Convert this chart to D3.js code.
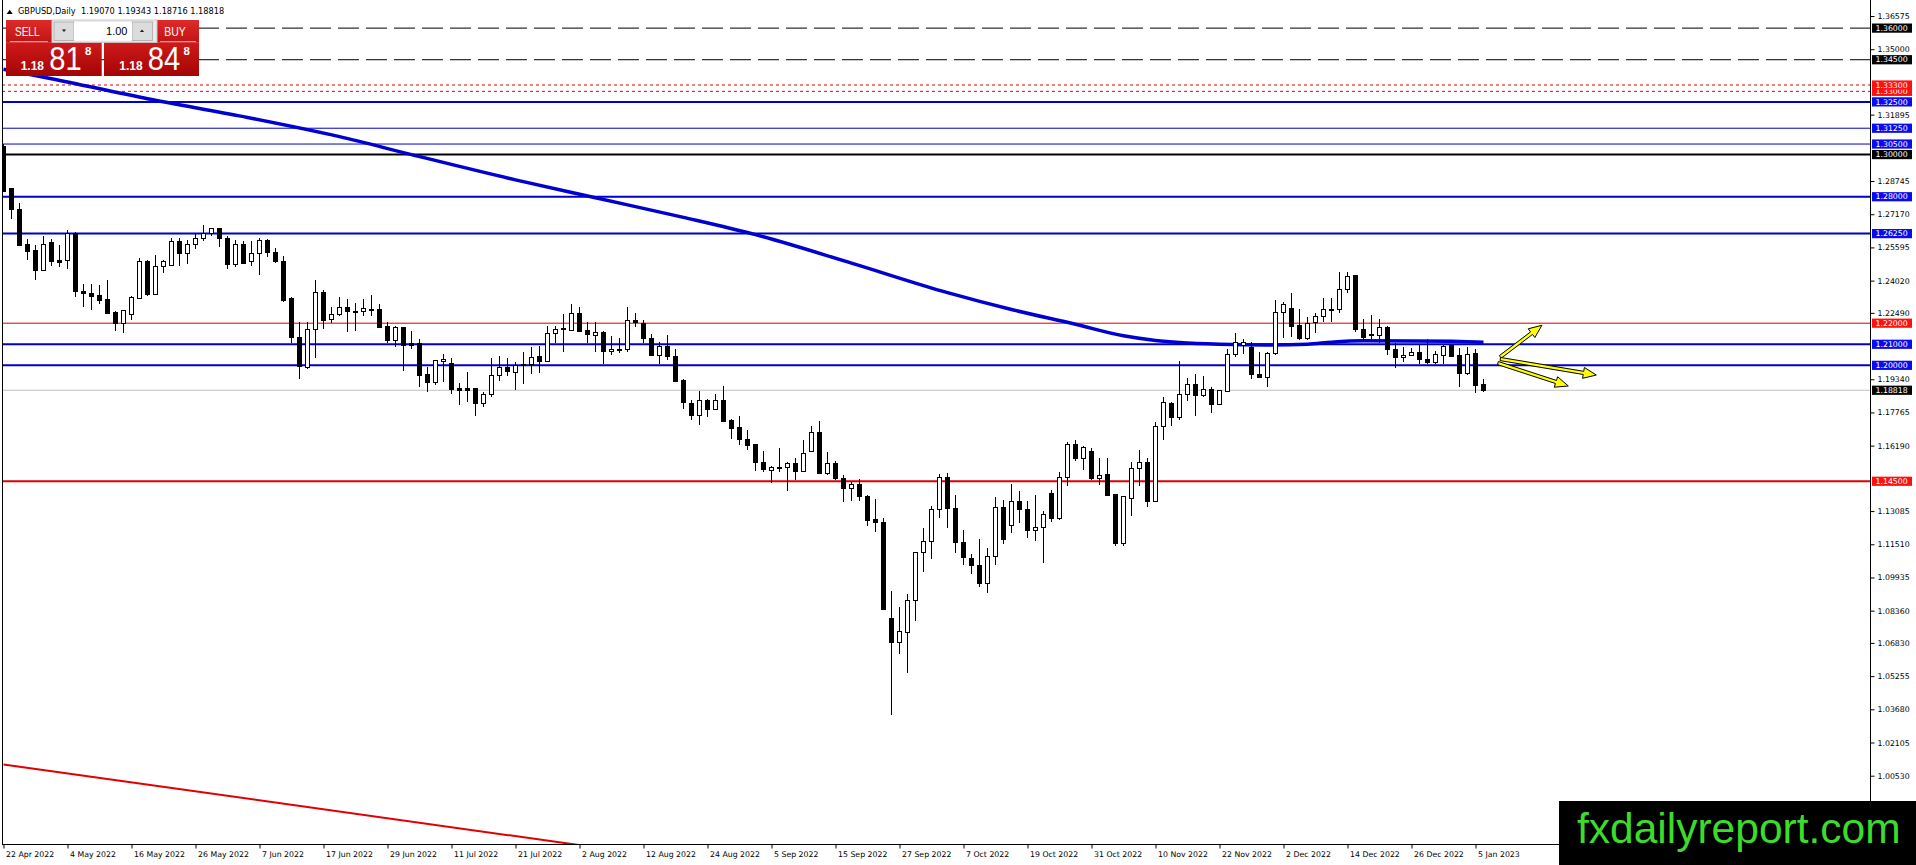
<!DOCTYPE html>
<html>
<head>
<meta charset="utf-8">
<title>GBPUSD,Daily</title>
<script src="https://cdn.jsdelivr.net/npm/d3@7"></script>
<style>
  html, body { margin: 0; padding: 0; background: #fff; }
  svg { display: block; }
</style>
</head>
<body>
<svg id="chart"></svg>
<script>
// 1. DATA *******************************
const symbol = "GBPUSD,Daily"
const lastQuote = ["1.19070", "1.19343", "1.18716", "1.18818"]

// x axis labels, one every 8 bars
const dayLabels = ["22 Apr 2022", "4 May 2022", "16 May 2022", "26 May 2022", "7 Jun 2022", "17 Jun 2022",
  "29 Jun 2022", "11 Jul 2022", "21 Jul 2022", "2 Aug 2022", "12 Aug 2022", "24 Aug 2022", "5 Sep 2022",
  "15 Sep 2022", "27 Sep 2022", "7 Oct 2022", "19 Oct 2022", "31 Oct 2022", "10 Nov 2022", "22 Nov 2022",
  "2 Dec 2022", "14 Dec 2022", "26 Dec 2022", "5 Jan 2023"]

const priceTicks = [1.36575, 1.35000, 1.31895, 1.28745, 1.27170, 1.25595, 1.24020, 1.22490, 1.19340,
  1.17765, 1.16190, 1.13085, 1.11510, 1.09935, 1.08360, 1.06830, 1.05255, 1.03680, 1.02105, 1.00530]

// daily bars [open, high, low, close]
const ohlc = [
  // 22 Apr
  [1.3036,1.3048,1.2822,1.2826],[1.2839,1.2842,1.2692,1.2738],[1.2738,1.2771,1.2568,1.2569],[1.2572,1.2600,1.2499,1.2542],
  [1.2545,1.2569,1.2407,1.2452],[1.2452,1.2616,1.2450,1.2572],[1.2581,1.2600,1.2471,1.2491],[1.2496,1.2569,1.2468,1.2488],
  // 4 May
  [1.2496,1.2641,1.2455,1.2626],[1.2626,1.2635,1.2325,1.2352],[1.2352,1.2384,1.2276,1.2340],[1.2341,1.2384,1.2262,1.2329],
  [1.2332,1.2381,1.2291,1.2310],[1.2313,1.2403,1.2242,1.2246],[1.2249,1.2256,1.2163,1.2199],[1.2199,1.2260,1.2152,1.2259],
  // 16 May
  [1.2240,1.2328,1.2213,1.2321],[1.2317,1.2507,1.2315,1.2491],[1.2491,1.2502,1.2328,1.2336],[1.2336,1.2524,1.2334,1.2468],
  [1.2468,1.2502,1.2436,1.2491],[1.2475,1.2602,1.2473,1.2586],[1.2586,1.2602,1.2471,1.2529],[1.2529,1.2597,1.2480,1.2572],
  // 26 May
  [1.2572,1.2624,1.2550,1.2603],[1.2603,1.2667,1.2588,1.2624],[1.2624,1.2654,1.2613,1.2648],[1.2648,1.2654,1.2562,1.2600],
  [1.2602,1.2613,1.2458,1.2480],[1.2480,1.2594,1.2466,1.2572],[1.2572,1.2592,1.2483,1.2483],[1.2491,1.2592,1.2471,1.2529],
  // 7 Jun
  [1.2529,1.2603,1.2428,1.2592],[1.2592,1.2600,1.2513,1.2534],[1.2534,1.2558,1.2486,1.2491],[1.2491,1.2521,1.2302,1.2310],
  [1.2316,1.2322,1.2107,1.2131],[1.2131,1.2208,1.1934,1.1995],[1.1990,1.2208,1.1984,1.2172],[1.2172,1.2405,1.2037,1.2347],
  // 17 Jun
  [1.2347,1.2358,1.2172,1.2213],[1.2219,1.2279,1.2203,1.2243],[1.2243,1.2323,1.2232,1.2276],[1.2276,1.2315,1.2160,1.2255],
  [1.2257,1.2298,1.2165,1.2254],[1.2257,1.2317,1.2236,1.2271],[1.2266,1.2333,1.2236,1.2260],[1.2263,1.2290,1.2179,1.2180],
  // 29 Jun
  [1.2183,1.2208,1.2105,1.2116],[1.2116,1.2187,1.2089,1.2180],[1.2180,1.2181,1.1971,1.2094],[1.2102,1.2162,1.2078,1.2094],
  [1.2102,1.2124,1.1895,1.1952],[1.1955,1.1990,1.1873,1.1919],[1.1919,1.2026,1.1905,1.2021],[1.2020,1.2055,1.1919,1.2029],
  // 11 Jul
  [1.2010,1.2034,1.1863,1.1884],[1.1889,1.1917,1.1810,1.1883],[1.1889,1.1968,1.1826,1.1883],[1.1889,1.1892,1.1758,1.1821],
  [1.1821,1.1873,1.1802,1.1863],[1.1863,1.2034,1.1852,1.1950],[1.1950,1.2045,1.1924,1.1991],[1.1991,1.2034,1.1950,1.1971],
  // 21 Jul
  [1.1968,1.2014,1.1884,1.1999],[1.1999,1.2063,1.1912,1.2002],[1.2004,1.2086,1.1958,1.2039],[1.2042,1.2092,1.1963,1.2017],
  [1.2018,1.2187,1.2017,1.2153],[1.2153,1.2187,1.2105,1.2172],[1.2172,1.2243,1.2061,1.2175],[1.2165,1.2290,1.2161,1.2247],
  // 2 Aug
  [1.2247,1.2276,1.2156,1.2159],[1.2165,1.2205,1.2105,1.2145],[1.2143,1.2208,1.2063,1.2157],[1.2157,1.2165,1.2007,1.2066],
  [1.2066,1.2140,1.2047,1.2077],[1.2074,1.2129,1.2058,1.2077],[1.2074,1.2279,1.2061,1.2213],[1.2213,1.2247,1.2181,1.2203],
  // 12 Aug
  [1.2200,1.2213,1.2108,1.2126],[1.2129,1.2149,1.2047,1.2047],[1.2047,1.2113,1.2007,1.2089],[1.2089,1.2145,1.2023,1.2042],
  [1.2042,1.2077,1.1919,1.1924],[1.1927,1.1935,1.1792,1.1824],[1.1821,1.1837,1.1739,1.1762],[1.1762,1.1879,1.1715,1.1832],
  // 24 Aug
  [1.1832,1.1840,1.1753,1.1792],[1.1792,1.1863,1.1786,1.1832],[1.1832,1.1903,1.1734,1.1734],[1.1737,1.1747,1.1650,1.1702],
  [1.1705,1.1761,1.1620,1.1650],[1.1650,1.1694,1.1596,1.1620],[1.1623,1.1623,1.1497,1.1540],[1.1541,1.1592,1.1492,1.1508],
  // 5 Sep
  [1.1502,1.1524,1.1442,1.1513],[1.1517,1.1608,1.1492,1.1513],[1.1517,1.1541,1.1402,1.1533],[1.1533,1.1560,1.1457,1.1497],
  [1.1497,1.1647,1.1494,1.1584],[1.1592,1.1713,1.1590,1.1679],[1.1679,1.1737,1.1489,1.1489],[1.1489,1.1589,1.1478,1.1536],
  // 15 Sep
  [1.1536,1.1546,1.1457,1.1462],[1.1465,1.1481,1.1352,1.1418],[1.1415,1.1446,1.1355,1.1434],[1.1434,1.1460,1.1355,1.1378],
  [1.1378,1.1386,1.1236,1.1265],[1.1268,1.1366,1.1209,1.1252],[1.1252,1.1276,1.0838,1.0841],[1.0800,1.0930,1.0341,1.0686],
  // 27 Sep
  [1.0686,1.0854,1.0630,1.0735],[1.0733,1.0913,1.0540,1.0886],[1.0883,1.1112,1.0785,1.1112],[1.1112,1.1230,1.1020,1.1164],
  [1.1164,1.1331,1.1083,1.1316],[1.1316,1.1486,1.1278,1.1467],[1.1467,1.1489,1.1226,1.1320],[1.1320,1.1384,1.1112,1.1159],
  // 7 Oct
  [1.1159,1.1221,1.1055,1.1088],[1.1083,1.1107,1.1012,1.1049],[1.1052,1.1178,1.0949,1.0965],[1.0965,1.1131,1.0921,1.1094],
  [1.1094,1.1376,1.1055,1.1325],[1.1325,1.1363,1.1151,1.1173],[1.1241,1.1436,1.1205,1.1354],[1.1354,1.1404,1.1253,1.1316],
  // 19 Oct
  [1.1316,1.1354,1.1183,1.1215],[1.1215,1.1386,1.1167,1.1230],[1.1230,1.1309,1.1060,1.1294],[1.1392,1.1407,1.1257,1.1273],
  [1.1273,1.1494,1.1265,1.1467],[1.1467,1.1636,1.1428,1.1624],[1.1624,1.1644,1.1546,1.1557],[1.1557,1.1619,1.1502,1.1610],
  // 31 Oct
  [1.1592,1.1610,1.1458,1.1463],[1.1463,1.1562,1.1431,1.1478],[1.1482,1.1562,1.1379,1.1384],[1.1388,1.1388,1.1142,1.1155],
  [1.1155,1.1379,1.1142,1.1376],[1.1368,1.1542,1.1286,1.1510],[1.1510,1.1597,1.1428,1.1538],[1.1538,1.1562,1.1328,1.1352],
  // 10 Nov
  [1.1352,1.1731,1.1352,1.1708],[1.1708,1.1850,1.1644,1.1826],[1.1818,1.1826,1.1711,1.1752],[1.1752,1.2020,1.1739,1.1861],
  [1.1864,1.1939,1.1831,1.1911],[1.1911,1.1959,1.1761,1.1856],[1.1856,1.1949,1.1851,1.1886],[1.1886,1.1899,1.1775,1.1815],
  // 22 Nov
  [1.1815,1.1884,1.1812,1.1880],[1.1878,1.2076,1.1875,1.2052],[1.2052,1.2152,1.2038,1.2108],[1.2092,1.2125,1.2054,1.2108],
  [1.2087,1.2112,1.1935,1.1958],[1.1958,1.2064,1.1940,1.1943],[1.1943,1.2065,1.1899,1.2057],[1.2057,1.2310,1.2049,1.2250],
  // 2 Dec
  [1.2250,1.2302,1.2128,1.2290],[1.2271,1.2342,1.2136,1.2184],[1.2187,1.2266,1.2120,1.2127],[1.2127,1.2231,1.2120,1.2200],
  [1.2201,1.2246,1.2152,1.2233],[1.2231,1.2318,1.2207,1.2263],[1.2259,1.2318,1.2207,1.2266],[1.2266,1.2441,1.2247,1.2361],
  // 14 Dec
  [1.2361,1.2441,1.2342,1.2421],[1.2424,1.2429,1.2157,1.2171],[1.2171,1.2221,1.2117,1.2133],[1.2147,1.2238,1.2124,1.2142],
  [1.2143,1.2222,1.2104,1.2179],[1.2179,1.2187,1.2049,1.2076],[1.2076,1.2104,1.1989,1.2038],[1.2038,1.2088,1.2017,1.2049],
  // 26 Dec
  [1.2046,1.2080,1.2044,1.2059],[1.2059,1.2097,1.2006,1.2029],[1.2029,1.2127,1.2006,1.2014],[1.2014,1.2068,1.2006,1.2052],
  [1.2046,1.2095,1.2006,1.2090],[1.2092,1.2095,1.2039,1.2043],[1.2046,1.2081,1.1899,1.1959],[1.1959,1.2085,1.1954,1.2052],
  // 5 Jan
  [1.2054,1.2079,1.1870,1.1904],[1.19070,1.19343,1.18716,1.18818]
]

// 200 day moving average [bar, price]
const ma200 = [[0,1.3405],[6,1.3360],[18,1.3265],[30,1.3180],[42,1.3085],[51,1.3000],[64,1.2880],[74,1.2795],
  [85,1.2702],[94,1.2620],[106,1.2485],[118,1.2345],[126,1.2265],[134,1.2195],[140,1.2140],[144,1.2118],
  [147,1.2108],[152,1.2100],[158,1.2097],[163,1.2100],[166,1.2110],[170,1.2117],[176,1.2116],[181,1.2114],[185,1.2110]]

// horizontal lines: price and style kind
const levelPrices = [1.36, 1.345, 1.333, 1.33, 1.325, 1.3125, 1.305, 1.30, 1.28, 1.2625, 1.22, 1.21, 1.20, 1.18818, 1.145]
const levelKinds  = ["dash", "dash", "dot", "dot", "blue2", "blue1", "blue1", "black2", "blue2", "blue2", "red1", "blue2", "blue2", "bid", "red2"]

// red trend line [bar, price]
const trendLine = [[0, 1.0106], [100, 0.9575]]

// yellow arrows [fromBar, fromPrice, toBar, toPrice]
const arrows = [
  [187.1, 1.2040, 192.3, 1.2190],
  [187.1, 1.2030, 199.1, 1.1954],
  [186.8, 1.2011, 195.6, 1.1902]
]

// 2. CANVAS *******************************
const width = 1916
const height = 865
const plot = { left: 2, top: 0, right: 1870, bottom: 844 }
const axisFont = "'DejaVu Sans', Verdana, sans-serif"

const svg = d3.select("#chart")
  .attr("width", width)
  .attr("height", height)
  .attr("viewBox", `0 0 ${width} ${height}`)

const defs = svg.append("defs")
defs.append("clipPath").attr("id", "plotClip")
  .append("rect")
  .attr("x", plot.left)
  .attr("y", plot.top)
  .attr("width", plot.right - plot.left)
  .attr("height", plot.bottom - plot.top)

const x = d3.scaleLinear().domain([0, 185]).range([3.5, 1483.5])
const y = d3.scaleLinear().domain([1.36575, 1.00530]).range([16, 775.7])

const kindStyle = {
  dash:   { stroke: "#000000", w: 1, dash: "21,7", box: "#000000" },
  dot:    { stroke: "#e00000", w: 1, dash: "3,3", box: "#ff1010" },
  blue2:  { stroke: "#0000c8", w: 2, dash: null, box: "#0a0af0" },
  blue1:  { stroke: "#0000c8", w: 1, dash: null, box: "#0a0af0" },
  black2: { stroke: "#000000", w: 2, dash: null, box: "#000000" },
  red1:   { stroke: "#d00000", w: 1, dash: null, box: "#ff1010" },
  red2:   { stroke: "#e00000", w: 2, dash: null, box: "#ff1010" },
  bid:    { stroke: "#c0c0c0", w: 1, dash: null, box: "#000000" }
}
const levels = levelPrices.map((p, i) => ({ price: p, ...kindStyle[levelKinds[i]] }))

const chart = svg.append("g").attr("clip-path", "url(#plotClip)")

// 3. HORIZONTAL LEVELS *******************************
chart.append("g")
  .selectAll("line")
  .data(levels)
  .join("line")
  .attr("x1", plot.left)
  .attr("x2", plot.right)
  .attr("y1", d => y(d.price))
  .attr("y2", d => y(d.price))
  .attr("stroke", d => d.stroke)
  .attr("stroke-width", d => d.w)
  .attr("stroke-dasharray", d => d.dash)

// 4. MOVING AVERAGE *******************************
chart.append("path")
  .datum(ma200)
  .attr("fill", "none")
  .attr("stroke", "#0000d0")
  .attr("stroke-width", 3.5)
  .attr("d", d3.line().x(d => x(d[0])).y(d => y(d[1])).curve(d3.curveMonotoneX))

// 5. CANDLES *******************************
const candles = chart.append("g").attr("shape-rendering", "crispEdges")
candles.selectAll("line")
  .data(ohlc)
  .join("line")
  .attr("x1", (d, i) => x(i))
  .attr("x2", (d, i) => x(i))
  .attr("y1", d => y(d[1]))
  .attr("y2", d => y(d[2]))
  .attr("stroke", "#000")
candles.selectAll("rect")
  .data(ohlc)
  .join("rect")
  .attr("x", (d, i) => x(i) - 2)
  .attr("y", d => y(Math.max(d[0], d[3])))
  .attr("width", 4)
  .attr("height", d => Math.max(Math.abs(y(d[0]) - y(d[3])), 1))
  .attr("fill", d => d[3] >= d[0] ? "#fff" : "#000")
  .attr("stroke", "#000")

// 6. TREND LINE + ARROWS *******************************
chart.append("line")
  .attr("x1", x(trendLine[0][0])).attr("y1", y(trendLine[0][1]))
  .attr("x2", x(trendLine[1][0])).attr("y2", y(trendLine[1][1]))
  .attr("stroke", "#e00000")
  .attr("stroke-width", 2)

function arrowPoints(x1, y1, x2, y2) {
  const len = Math.hypot(x2 - x1, y2 - y1)
  const ux = (x2 - x1) / len, uy = (y2 - y1) / len
  const nx = -uy, ny = ux
  const shaft = 1.6, head = 5.5, headLen = 13
  const bx = x2 - ux * headLen, by = y2 - uy * headLen
  return [
    [x1 + nx * shaft, y1 + ny * shaft],
    [bx + nx * shaft, by + ny * shaft],
    [bx + nx * head, by + ny * head],
    [x2, y2],
    [bx - nx * head, by - ny * head],
    [bx - nx * shaft, by - ny * shaft],
    [x1 - nx * shaft, y1 - ny * shaft]
  ].map(p => p.join(",")).join(" ")
}

chart.append("g")
  .selectAll("polygon")
  .data(arrows)
  .join("polygon")
  .attr("points", d => arrowPoints(x(d[0]), y(d[1]), x(d[2]), y(d[3])))
  .attr("fill", "#ffff00")
  .attr("stroke", "#000")
  .attr("stroke-width", 1)
  .attr("stroke-linejoin", "miter")

// 7. AXES *******************************
const frame = svg.append("g").attr("stroke", "#000").attr("shape-rendering", "crispEdges")
frame.append("line").attr("x1", 2.5).attr("x2", 2.5).attr("y1", 0).attr("y2", plot.bottom)
frame.append("line").attr("x1", plot.right + 0.5).attr("x2", plot.right + 0.5).attr("y1", 0).attr("y2", plot.bottom + 1)
frame.append("line").attr("x1", 2).attr("x2", plot.right + 1).attr("y1", plot.bottom + 0.5).attr("y2", plot.bottom + 0.5)

const yAxis = svg.append("g")
  .attr("transform", `translate(${plot.right + 0.5}, 0)`)
  .call(d3.axisRight(y).tickValues(priceTicks).tickSize(4).tickPadding(3).tickFormat(d3.format(".5f")))
yAxis.select(".domain").remove()
yAxis.selectAll("text")
  .attr("font-family", axisFont)
  .attr("font-size", 7.8)
  .attr("fill", "#000")

const dayIndex = dayLabels.map((d, i) => i * 8)
const xAxis = svg.append("g")
  .attr("transform", `translate(0, ${plot.bottom + 0.5})`)
  .call(d3.axisBottom(x).tickValues(dayIndex).tickSize(4).tickPadding(3).tickFormat((d, i) => dayLabels[i]))
xAxis.select(".domain").remove()
xAxis.selectAll("text")
  .attr("font-family", axisFont)
  .attr("font-size", 7.8)
  .attr("fill", "#000")
  .attr("text-anchor", "start")
  .attr("x", 2)

// price labels for the horizontal lines (lowest first so upper ones sit on top)
const tags = svg.append("g")
  .selectAll("g")
  .data(levels.slice().reverse())
  .join("g")
  .attr("transform", d => `translate(${plot.right + 2}, ${y(d.price)})`)
tags.append("rect")
  .attr("x", 0)
  .attr("y", -4.6)
  .attr("width", 40)
  .attr("height", 9.2)
  .attr("fill", d => d.box)
tags.append("text")
  .attr("x", 3.5)
  .attr("dy", "0.35em")
  .attr("font-family", axisFont)
  .attr("font-size", 7.8)
  .attr("fill", "#fff")
  .text(d => d3.format(".5f")(d.price))

// 8. TITLE + TRADE PANEL *******************************
svg.append("path").attr("d", "M6.7,14 L9.7,9.8 L12.7,14 Z").attr("fill", "#000")
svg.append("text")
  .attr("x", 18)
  .attr("y", 14)
  .attr("font-family", axisFont)
  .attr("font-size", 8.2)
  .attr("fill", "#000")
  .style("white-space", "pre")
  .text(`${symbol}  ${lastQuote.join(" ")}`)

const gradTop = defs.append("linearGradient").attr("id", "redTop").attr("x1", 0).attr("y1", 0).attr("x2", 0).attr("y2", 1)
gradTop.append("stop").attr("offset", "0%").attr("stop-color", "#e02a2a")
gradTop.append("stop").attr("offset", "100%").attr("stop-color", "#c01414")
const gradBox = defs.append("linearGradient").attr("id", "redBox").attr("x1", 0).attr("y1", 0).attr("x2", 0).attr("y2", 1)
gradBox.append("stop").attr("offset", "0%").attr("stop-color", "#cf1a1a")
gradBox.append("stop").attr("offset", "100%").attr("stop-color", "#a50404")

const panel = svg.append("g").attr("font-family", "'Liberation Sans', Arial, sans-serif")

// sell / buy blocks
panel.append("rect").attr("x", 6).attr("y", 20).attr("width", 46).attr("height", 22.5).attr("fill", "url(#redTop)")
panel.append("rect").attr("x", 157).attr("y", 20).attr("width", 42).attr("height", 22.5).attr("fill", "url(#redTop)")
panel.append("rect").attr("x", 6).attr("y", 42.3).attr("width", 95.7).attr("height", 33.7).attr("fill", "url(#redBox)")
panel.append("rect").attr("x", 104).attr("y", 42.3).attr("width", 95).attr("height", 33.7).attr("fill", "url(#redBox)")
panel.append("line").attr("x1", 10).attr("x2", 48).attr("y1", 41.6).attr("y2", 41.6).attr("stroke", "#f3a0a0")
panel.append("line").attr("x1", 160).attr("x2", 196).attr("y1", 41.6).attr("y2", 41.6).attr("stroke", "#f3a0a0")

// lot spinner
panel.append("rect").attr("x", 52).attr("y", 20).attr("width", 105).attr("height", 22.3)
  .attr("fill", "#ececec").attr("stroke", "#c8c8c8")
panel.append("rect").attr("x", 54).attr("y", 22).attr("width", 20).attr("height", 18.5)
  .attr("fill", "#dcdcdc").attr("stroke", "#b4b4b4")
panel.append("rect").attr("x", 132).attr("y", 22).attr("width", 20.5).attr("height", 18.5)
  .attr("fill", "#dcdcdc").attr("stroke", "#b4b4b4")
panel.append("rect").attr("x", 74).attr("y", 22).attr("width", 58).attr("height", 18.5).attr("fill", "#fff")
panel.append("path").attr("d", "M61.8,29.5 L66.2,29.5 L64,32 Z").attr("fill", "#222")
panel.append("path").attr("d", "M139.8,32 L144.2,32 L142,29.5 Z").attr("fill", "#222")
panel.append("text").attr("x", 127.5).attr("y", 35).attr("text-anchor", "end")
  .attr("font-size", 11).attr("fill", "#000").text("1.00")

// labels and prices
const white = "#fff"
panel.append("text").attr("x", 15).attr("y", 36).attr("font-size", 13.5).attr("fill", white)
  .attr("textLength", 24.5).attr("lengthAdjust", "spacingAndGlyphs").text("SELL")
panel.append("text").attr("x", 164.3).attr("y", 36).attr("font-size", 13.5).attr("fill", white)
  .attr("textLength", 21.5).attr("lengthAdjust", "spacingAndGlyphs").text("BUY")

const quoteParts = [
  { x0: 20.7, big: "81", pips: "8" },
  { x0: 119.3, big: "84", pips: "8" }
]
quoteParts.forEach(q => {
  panel.append("text").attr("x", q.x0).attr("y", 70).attr("font-size", 12.6).attr("font-weight", "bold")
    .attr("fill", white).attr("textLength", 23.3).attr("lengthAdjust", "spacingAndGlyphs").text("1.18")
  panel.append("text").attr("x", q.x0 + 28.5).attr("y", 70).attr("font-size", 32.5)
    .attr("fill", white).attr("textLength", 32.4).attr("lengthAdjust", "spacingAndGlyphs").text(q.big)
  panel.append("text").attr("x", q.x0 + 64.3).attr("y", 55).attr("font-size", 11.5).attr("font-weight", "bold")
    .attr("fill", white).text(q.pips)
})

// 9. WATERMARK *******************************
svg.append("rect")
  .attr("x", 1559)
  .attr("y", 801)
  .attr("width", 357)
  .attr("height", 64)
  .attr("fill", "#000")
svg.append("text")
  .attr("x", 1577)
  .attr("y", 843)
  .attr("font-family", "'Liberation Sans', Arial, sans-serif")
  .attr("font-size", 42.5)
  .attr("fill", "#3cdc2a")
  .text("fxdailyreport.com")
</script>
</body>
</html>
